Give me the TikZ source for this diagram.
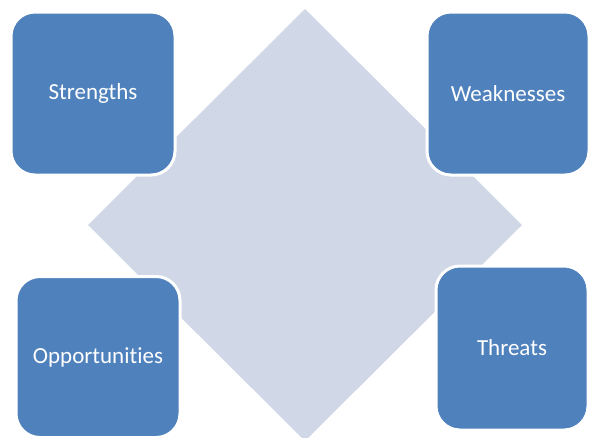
\documentclass[tikz,border=0pt]{standalone}
\usepackage{fontspec}
\setmainfont{Carlito}[Ligatures={NoCommon,NoDiscretionary}]
\definecolor{boxblue}{HTML}{4F81BD}
\definecolor{diamondfill}{HTML}{D0D8E8}
\begin{document}
\begin{tikzpicture}[x=1pt,y=-1pt,
  swotbox/.style={draw=white, line width=3pt, fill=boxblue, rounded corners=24pt,
    text=white, font=\fontsize{23}{26}\selectfont, inner sep=0pt},
  bg/.style={fill=diamondfill, draw=none}]
\useasboundingbox (0,0) rectangle (589,437);
\fill[bg] (305,9) -- (522,225) -- (305,441) -- (88,225) -- cycle;
\node[swotbox, minimum width=164pt, minimum height=163pt] (s) at (93,93.5) {Strengths};
\node[swotbox, minimum width=162pt, minimum height=163pt] (w) at (508,93.5) {Weaknesses};
\node[swotbox, minimum width=164pt, minimum height=161pt] (o) at (98,357) {Opportunities};
\node[swotbox, minimum width=152pt, minimum height=164pt] (t) at (512,348) {Threats};
\end{tikzpicture}
\end{document}
